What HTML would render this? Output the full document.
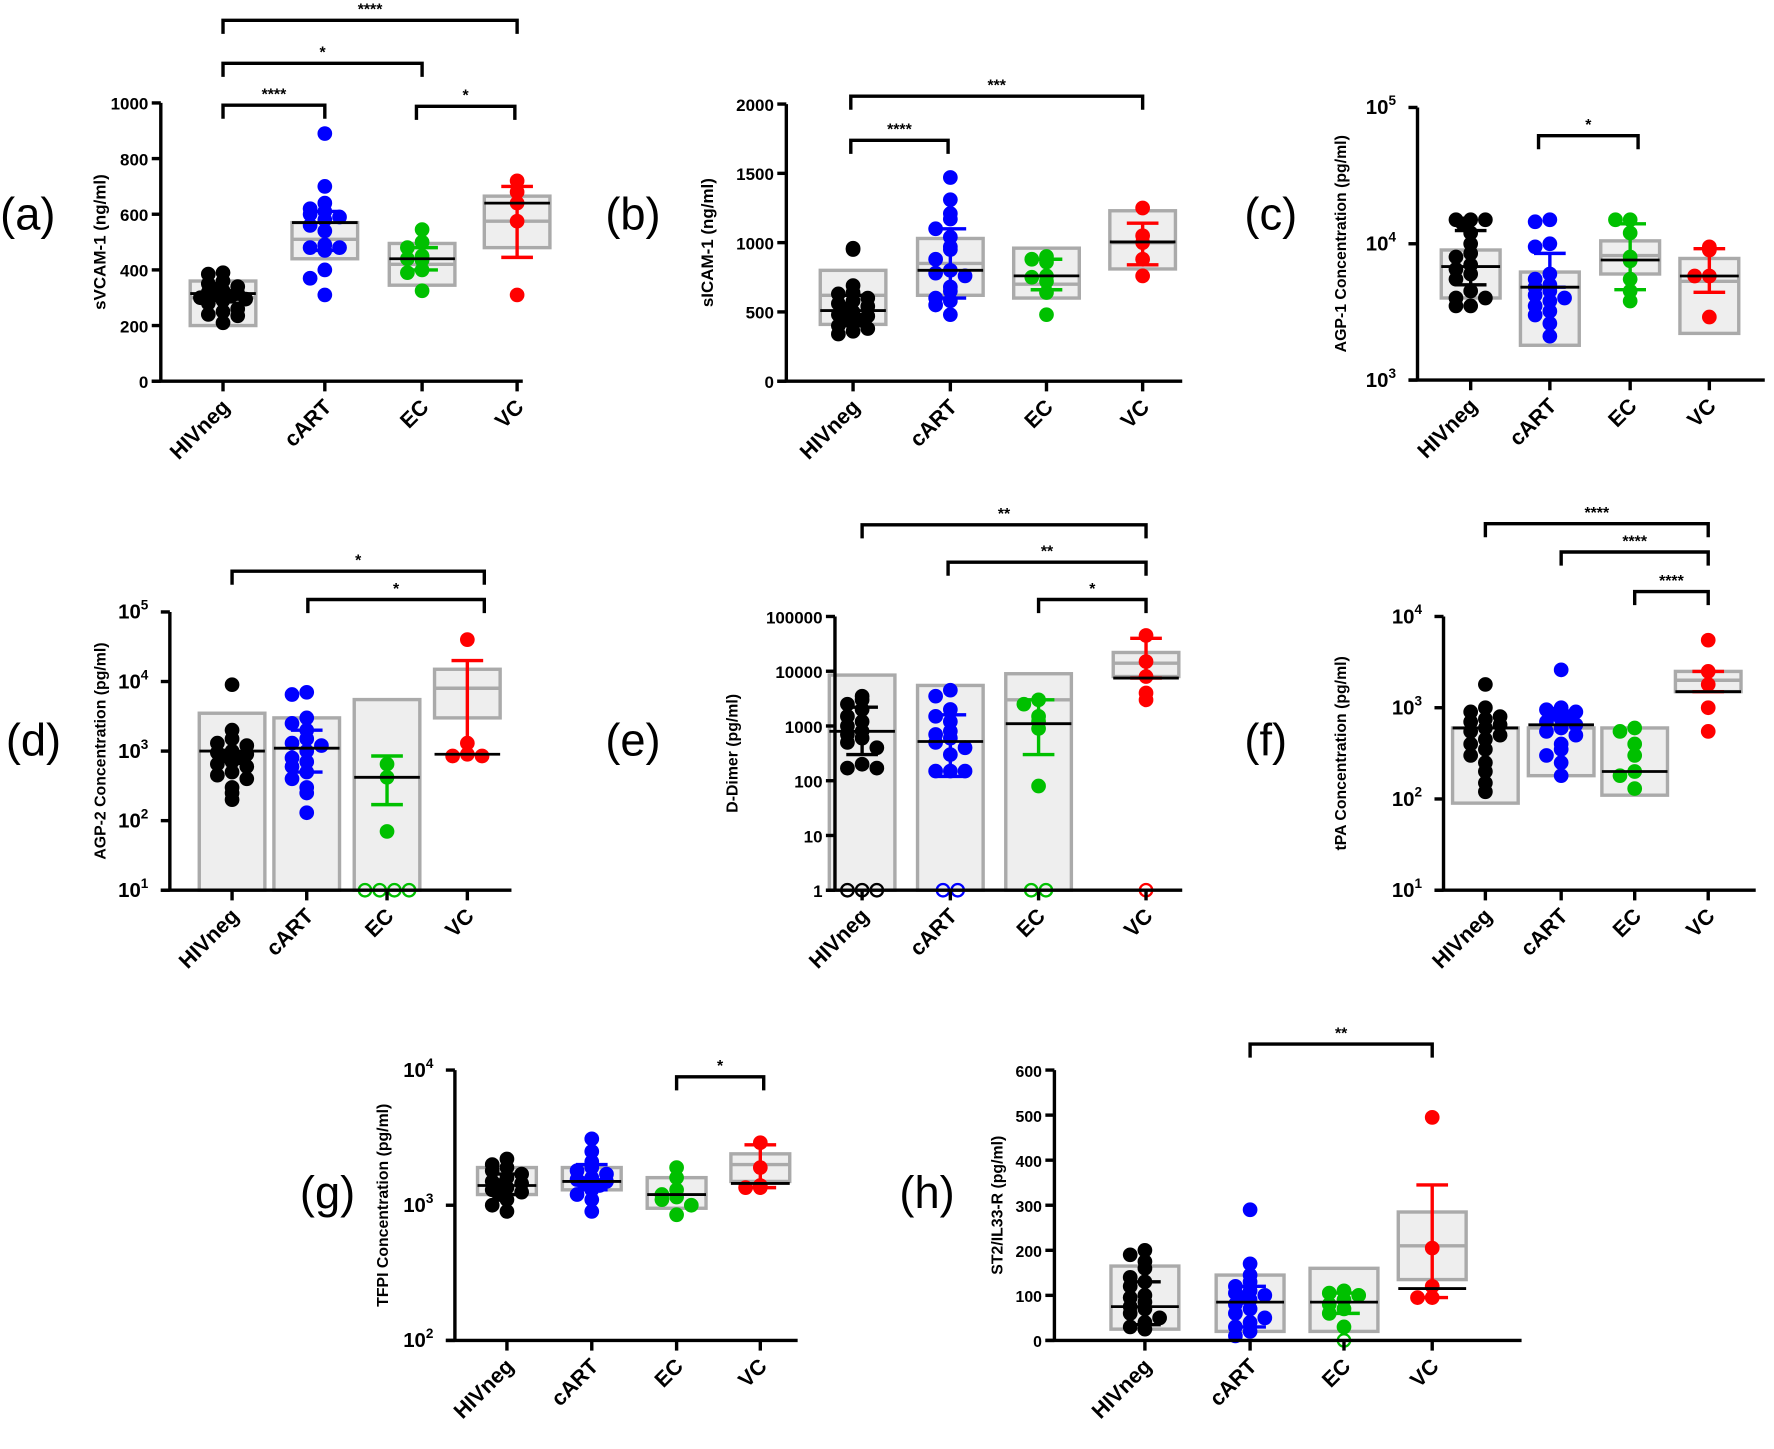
<!DOCTYPE html>
<html><head><meta charset="utf-8"><style>
html,body{margin:0;padding:0;background:#fff;}
svg{display:block;}
text{font-family:"Liberation Sans",Arial,sans-serif;}
</style></head><body>
<svg id="s" width="1774" height="1449" viewBox="0 0 1568 1281" xmlns="http://www.w3.org/2000/svg"></svg>
<script>
const S=document.getElementById('s');let out='';
const COL={k:'#000',b:'#0000ff',g:'#00c000',r:'#ff0000'};
function panel(p){
  const lin=p.type==='lin';
  const Y=v=>{ if(lin) return p.yB-(v-p.min)/(p.max-p.min)*(p.yB-p.yT);
    const lv=Math.log10(Math.max(v,Math.pow(10,p.min)));return p.yB-(lv-p.min)/(p.max-p.min)*(p.yB-p.yT);};
  const bw=p.bw||58;
  p.g.forEach((g,i)=>{const x=p.cx[i];
    if(g.box){const [lo,hi,mid]=g.box;const y1=Y(hi),y2=Y(lo);
      out+=`<rect x="${x-bw/2}" y="${y1}" width="${bw}" height="${y2-y1}" fill="#eee" stroke="#aaa" stroke-width="3"/>`;
      if(mid) out+=`<line x1="${x-bw/2}" x2="${x+bw/2}" y1="${Y(mid)}" y2="${Y(mid)}" stroke="#aaa" stroke-width="3"/>`;}
  });
  const off=[0,-13,13,-7,7,-20,20,-26,26];
  p.g.forEach((g,i)=>{const x=p.cx[i];const c=COL[g.c];
    const byRow={};
    g.d.forEach((v,j)=>{const y=Y(v);const key=Math.round(y/9);byRow[key]=(byRow[key]||0)+1;const o=off[(byRow[key]-1)%off.length];
      out+=`<circle cx="${x+o}" cy="${y}" r="6.5" fill="${c}"/>`;});
    (g.h||[]).forEach((v,j)=>{const n=g.h.length;const o=(j-(n-1)/2)*13;
      out+=`<circle cx="${x+o}" cy="${Y(v)}" r="5.5" fill="none" stroke="${c}" stroke-width="2"/>`;});
    if(g.e){const [lo,hi]=g.e;const ec=g.ek?'#000':c;
      out+=`<line x1="${x}" x2="${x}" y1="${Y(lo)}" y2="${Y(hi)}" stroke="${ec}" stroke-width="3"/>`;
      [lo,hi].forEach(v=>out+=`<line x1="${x-14}" x2="${x+14}" y1="${Y(v)}" y2="${Y(v)}" stroke="${ec}" stroke-width="3"/>`);}
    if(g.m!=null) out+=`<line x1="${x-bw/2}" x2="${x+bw/2}" y1="${Y(g.m)}" y2="${Y(g.m)}" stroke="#000" stroke-width="2.5"/>`;
  });
  out+=`<line x1="${p.ax}" x2="${p.ax}" y1="${p.yT}" y2="${p.yB}" stroke="#000" stroke-width="3"/>`;
  out+=`<line x1="${p.ax-8}" x2="${p.xe}" y1="${p.yB}" y2="${p.yB}" stroke="#000" stroke-width="3"/>`;
  const tfs=p.tfs||16;
  p.ticks.forEach(t=>{const y=Y(t);
    out+=`<line x1="${p.ax-8}" x2="${p.ax}" y1="${y}" y2="${y}" stroke="#000" stroke-width="3"/>`;
    const plain=lin||p.plain;
    const lab=plain?String(t):`10<tspan dy="-8" font-size="12">${Math.round(Math.log10(t))}</tspan>`;
    out+=`<text x="${p.ax-11-(plain?0:8)}" y="${y+6}" font-size="${plain?tfs:18}" font-weight="bold" text-anchor="end">${lab}</text>`;});
  ['HIVneg','cART','EC','VC'].forEach((n,i)=>{const x=p.cx[i];
    out+=`<line x1="${x}" x2="${x}" y1="${p.yB}" y2="${p.yB+9}" stroke="#000" stroke-width="3"/>`;
    out+=`<text transform="translate(${x+7},${p.yB+24}) rotate(-45)" font-size="19" font-weight="bold" text-anchor="end">${n}</text>`;});
  const ym=(p.yT+p.yB)/2;
  out+=`<text transform="translate(${p.lx},${ym}) rotate(-90)" font-size="${p.lfs||15}" font-weight="bold" text-anchor="middle">${p.label}</text>`;
  out+=`<text x="${p.tx}" y="${p.ty}" font-size="40">${p.tag}</text>`;
  (p.br||[]).forEach(b=>{const [a,c,y,l]=b;
    out+=`<path d="M${a} ${y+12}V${y}H${c}V${y+12}" fill="none" stroke="#000" stroke-width="3"/>`;
    out+=`<text x="${(a+c)/2}" y="${y-5}" font-size="14" font-weight="bold" text-anchor="middle">${l}</text>`;});
}
panel({type:'lin',min:0,max:1000,yT:91,yB:337,ax:142,xe:462,cx:[197,287,373,457],bw:58,tfs:15,
 ticks:[0,200,400,600,800,1000],lx:93,label:'sVCAM-1 (ng/ml)',tag:'(a)',tx:0,ty:203,
 br:[[197,457,18,'****'],[197,373,56,'*'],[197,287,93,'****'],[368,455,94,'*']],
 g:[{c:'k',box:[200,360,300],m:315,d:[390,385,360,350,340,330,325,320,315,310,305,300,295,290,280,250,240,235,260,210]},
  {c:'b',box:[440,570,510],m:570,e:[470,610],d:[890,700,640,620,610,600,590,580,560,540,490,480,480,470,400,370,310]},
  {c:'g',box:[345,495,420],m:440,e:[400,480],d:[545,500,480,450,440,435,400,390,325]},
  {c:'r',box:[480,665,575],m:640,e:[445,700],d:[720,680,640,575,310]}]});
panel({type:'lin',min:0,max:2000,yT:92,yB:337,ax:695,xe:1045,cx:[754,840,925,1010],bw:58,tfs:15,
 ticks:[0,500,1000,1500,2000],lx:630,label:'sICAM-1 (ng/ml)',tag:'(b)',tx:535,ty:203,
 br:[[752,1010,85,'***'],[752,838,124,'****']],
 g:[{c:'k',box:[410,800,620],m:510,e:[400,620],ek:1,d:[960,950,690,640,630,600,580,560,540,520,500,480,470,450,440,420,400,380,360,340]},
  {c:'b',box:[620,1030,850],m:800,e:[600,1100],d:[1470,1310,1210,1170,1100,1040,970,950,880,800,780,760,680,650,600,580,550,480]},
  {c:'g',box:[600,960,700],m:760,e:[660,880],d:[900,880,860,760,720,750,640,480]},
  {c:'r',box:[810,1230,1000],m:1005,e:[840,1140],d:[1250,1050,1000,880,760]}]});
panel({type:'log',min:3,max:5,yT:95,yB:336,ax:1253,xe:1560,cx:[1300,1370,1441,1511],bw:52,
 ticks:[1000,10000,100000],lx:1190,lfs:14,label:'AGP-1 Concentration (pg/ml)',tag:'(c)',tx:1100,ty:203,
 br:[[1360,1448,120,'*']],
 g:[{c:'k',box:[4000,9000],m:6800,e:[5000,12500],ek:1,d:[15000,15000,15000,14000,12000,10000,8500,8000,7000,6500,6000,5500,4500,4000,4000,3500,3500]},
  {c:'b',box:[1800,6200],m:4800,e:[4800,8500],d:[15000,14500,10000,9500,6000,5500,5000,4800,4500,4200,4000,3800,3500,3200,3000,2600,2100]},
  {c:'g',box:[6000,10500,8200],m:7600,e:[4600,14000],d:[15000,15000,12000,8000,7500,5500,4500,3800]},
  {c:'r',box:[2200,7800,5300],m:5800,e:[4400,9200],d:[9500,9000,5800,5800,2900]}]});
panel({type:'log',min:1,max:5,yT:541,yB:787,ax:150,xe:452,cx:[205,271,342,413],bw:58,
 ticks:[10,100,1000,10000,100000],lx:93,lfs:14,label:'AGP-2 Concentration (pg/ml)',tag:'(d)',tx:5,ty:668,
 br:[[205,428,505,'*'],[272,428,530,'*']],
 g:[{c:'k',box:[10,3500],m:1000,d:[9000,2000,1500,1300,1200,1000,950,900,850,800,700,650,600,500,450,400,300,250,200]},
  {c:'b',box:[10,3000],m:1100,e:[500,2000],d:[7000,6500,3000,2500,2000,1500,1300,1200,1000,800,700,600,500,400,300,250,130]},
  {c:'g',box:[10,5500],m:420,e:[170,850],d:[650,420,70],h:[10,10,10,10]},
  {c:'r',box:[3000,15000,8000],m:900,e:[900,20000],d:[40000,1300,900,850,850]}]});
panel({type:'log',min:0,max:5,yT:545,yB:787,ax:738,xe:1045,cx:[762,840,918,1013],bw:58,plain:1,tfs:15,
 ticks:[1,10,100,1000,10000,100000],lx:652,lfs:14,label:'D-Dimer (pg/ml)',tag:'(e)',tx:535,ty:668,
 br:[[762,1013,464,'**'],[838,1013,497,'**'],[918,1013,530,'*']],
 g:[{c:'k',box:[1,8500],m:800,e:[300,2200],ek:1,d:[3500,3000,2500,2000,1500,1200,1000,800,700,600,500,400,200,170,170],h:[1,1,1]},
  {c:'b',box:[1,5500],m:520,e:[120,1600],d:[4500,3500,2000,1500,1200,800,700,600,500,400,300,150,150,150],h:[1,1]},
  {c:'g',box:[1,9000,3000],m:1100,e:[300,3000],d:[3000,2500,1500,1200,900,80],h:[1,1]},
  {c:'r',box:[8000,22000,14000],m:7500,e:[7500,40000],d:[45000,15000,8000,4000,3000],h:[1]}]});
panel({type:'log',min:1,max:4,yT:545,yB:787,ax:1276,xe:1552,cx:[1313,1380,1445,1510],bw:58,
 ticks:[10,100,1000,10000],lx:1190,lfs:14,label:'tPA Concentration (pg/ml)',tag:'(f)',tx:1100,ty:668,
 br:[[1313,1510,463,'****'],[1380,1510,488,'****'],[1445,1510,523,'****']],
 g:[{c:'k',box:[90,600],m:600,d:[1800,1000,900,800,750,700,650,600,550,500,450,400,350,300,250,200,150,120]},
  {c:'b',box:[180,600],m:650,d:[2600,1000,950,900,850,800,750,700,650,600,550,500,400,350,300,250,180]},
  {c:'g',box:[110,600],m:200,d:[600,550,400,300,200,180,130]},
  {c:'r',box:[1500,2500,2000],m:1500,e:[1500,2500],d:[5500,2500,1800,1000,550]}]});
panel({type:'log',min:2,max:4,yT:946,yB:1185,ax:402,xe:705,cx:[448,523,598,672],bw:52,
 ticks:[100,1000,10000],lx:343,lfs:14,label:'TFPI Concentration (pg/ml)',tag:'(g)',tx:265,ty:1068,
 br:[[598,675,952,'*']],
 g:[{c:'k',box:[1200,1900],m:1400,e:[1200,1700],ek:1,d:[2200,2000,1900,1800,1700,1600,1500,1450,1400,1350,1300,1250,1200,1100,1000,900]},
  {c:'b',box:[1300,1900],m:1500,e:[1300,2000],d:[3100,2500,2100,1900,1800,1700,1600,1550,1500,1450,1400,1300,1200,1100,900]},
  {c:'g',box:[950,1600],m:1200,d:[1900,1600,1300,1200,1150,1100,1000,850]},
  {c:'r',box:[1500,2400,2000],m:1450,e:[1350,2800],d:[2900,1900,1400,1350,1350]}]});
panel({type:'lin',min:0,max:600,yT:946,yB:1185,ax:932,xe:1345,cx:[1012,1105,1188,1266],bw:60,tfs:14,
 ticks:[0,100,200,300,400,500,600],lx:886,lfs:14,label:'ST2/IL33-R (pg/ml)',tag:'(h)',tx:795,ty:1068,
 br:[[1105,1266,923,'**']],
 g:[{c:'k',box:[25,165],m:75,e:[35,130],ek:1,d:[200,190,175,160,140,130,120,100,95,85,75,70,60,50,40,30,25]},
  {c:'b',box:[20,145],m:85,e:[30,120],d:[290,170,145,130,120,110,105,100,95,90,80,70,60,50,40,30,20,10]},
  {c:'g',box:[20,160],m:85,e:[60,105],d:[110,105,100,90,80,70,60,30],h:[0]},
  {c:'r',box:[135,285,210],m:115,e:[95,345],d:[495,205,120,95,95]}]});
S.innerHTML=out;
</script>
</body></html>
